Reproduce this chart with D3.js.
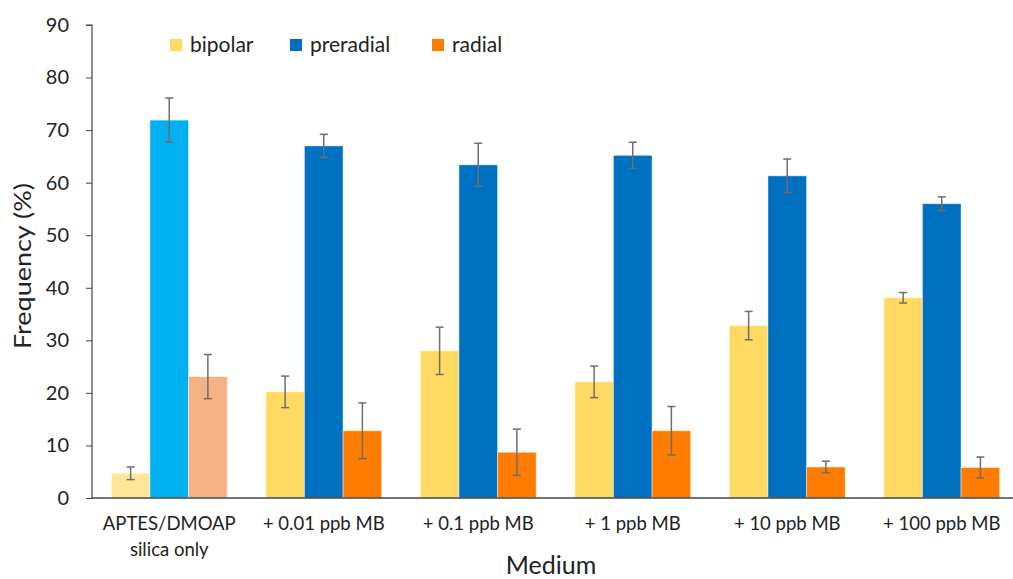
<!DOCTYPE html>
<html>
<head>
<meta charset="utf-8">
<script src="https://cdn.jsdelivr.net/npm/d3@7"></script>
<style>
  body { margin: 0; background: #fff; }
  text { font-family: Lato, "Open Sans", sans-serif; fill: #222; }
</style>
</head>
<body>
<script>
// Data
const categories = ["APTES/DMOAP|silica only", "+ 0.01 ppb MB", "+ 0.1 ppb MB", "+ 1 ppb MB", "+ 10 ppb MB", "+ 100 ppb MB"];
const seriesNames = ["bipolar", "preradial", "radial"];
const bipolar = [4.7, 20.2, 28.0, 22.1, 32.8, 38.1];
const bipolarErr = [1.2, 3.0, 4.5, 3.0, 2.7, 1.0];
const preradial = [71.9, 67.0, 63.4, 65.2, 61.3, 56.0];
const preradialErr = [4.2, 2.2, 4.1, 2.5, 3.2, 1.3];
const radial = [23.1, 12.8, 8.7, 12.8, 5.9, 5.8];
const radialErr = [4.2, 5.3, 4.4, 4.6, 1.1, 2.0];
const yTicks = [0, 10, 20, 30, 40, 50, 60, 70, 80, 90];

const colors = ["#FFD961", "#0070C0", "#FF7C00"];
// the control group is drawn in lighter tints
const controlColors = ["#FFE699", "#00B0F0", "#F4B183"];

const width = 1013, height = 579;
const axisX = 92;

const svg = d3.select("body").append("svg")
    .attr("width", width)
    .attr("height", height);

// Scales
const x0 = d3.scaleBand()
    .domain(categories)
    .range([92, 1019])
    .paddingInner(0.25)
    .paddingOuter(0.125);

const x1 = d3.scaleBand()
    .domain(seriesNames)
    .range([0, x0.bandwidth()]);

const y = d3.scaleLinear()
    .domain([0, 90])
    .range([498, 25]);

// Build rows for bars
const values = [bipolar, preradial, radial];
const errors = [bipolarErr, preradialErr, radialErr];
const rows = [];
categories.forEach((c, i) => {
    seriesNames.forEach((s, j) => {
        rows.push({cat: c, series: s, value: values[j][i], err: errors[j][i], ci: i, si: j});
    });
});

// Bars
svg.selectAll("rect.bar")
    .data(rows)
    .enter().append("rect")
    .attr("class", "bar")
    .attr("x", d => x0(d.cat) + x1(d.series))
    .attr("y", d => y(d.value))
    .attr("width", x1.bandwidth())
    .attr("height", d => y(0) - y(d.value))
    .attr("fill", d => d.ci === 0 ? controlColors[d.si] : colors[d.si])
    .attr("stroke", "rgba(255,255,255,0.45)")
    .attr("stroke-width", 1);

// Error bars
const cx = d => x0(d.cat) + x1(d.series) + x1.bandwidth() / 2;
const err = svg.selectAll("g.err")
    .data(rows)
    .enter().append("g")
    .attr("class", "err")
    .attr("stroke", "#6e6e6e")
    .attr("stroke-width", 1.5);

err.append("line")
    .attr("x1", cx)
    .attr("x2", cx)
    .attr("y1", d => y(d.value + d.err))
    .attr("y2", d => y(d.value - d.err));

err.append("line")
    .attr("x1", d => cx(d) - 4)
    .attr("x2", d => cx(d) + 4)
    .attr("y1", d => y(d.value + d.err))
    .attr("y2", d => y(d.value + d.err));

err.append("line")
    .attr("x1", d => cx(d) - 4)
    .attr("x2", d => cx(d) + 4)
    .attr("y1", d => y(d.value - d.err))
    .attr("y2", d => y(d.value - d.err));

// Y axis
const yAxis = svg.append("g")
    .attr("transform", "translate(" + axisX + ",0)")
    .call(d3.axisLeft(y).tickValues(yTicks).tickSize(6).tickPadding(17));
yAxis.select(".domain").attr("stroke", "#444").attr("stroke-width", 1.2).attr("d", "M-6," + y(90) + "H0V" + y(0));
yAxis.selectAll(".tick line").attr("stroke", "#444");
yAxis.selectAll(".tick text")
    .style("font-size", "20px")
    .attr("fill", "#222");

// X axis line
svg.append("line")
    .attr("x1", axisX)
    .attr("x2", 1013)
    .attr("y1", y(0))
    .attr("y2", y(0))
    .attr("stroke", "#444")
    .attr("stroke-width", 1.5);

// Category labels
const catLabels = svg.selectAll("text.cat")
    .data(categories)
    .enter().append("text")
    .attr("class", "cat")
    .attr("x", d => x0(d) + x0.bandwidth() / 2)
    .attr("y", 530)
    .attr("text-anchor", "middle")
    .style("font-size", "18.5px");

catLabels.each(function(d) {
    const parts = d.split("|");
    const t = d3.select(this);
    parts.forEach((p, k) => {
        t.append("tspan")
            .attr("x", x0(d) + x0.bandwidth() / 2)
            .attr("dy", k === 0 ? 0 : 26)
            .text(p);
    });
});

// Axis titles
svg.append("text")
    .attr("x", 551)
    .attr("y", 574)
    .attr("text-anchor", "middle")
    .style("font-size", "25px")
    .text("Medium");

svg.append("text")
    .attr("transform", "rotate(-90)")
    .attr("x", -266)
    .attr("y", 31)
    .attr("text-anchor", "middle")
    .attr("textLength", 166)
    .attr("lengthAdjust", "spacingAndGlyphs")
    .style("font-size", "23px")
    .text("Frequency (%)");

// Legend
const legendX = [170, 290, 432];
const legend = svg.selectAll(".legend")
    .data(seriesNames)
    .enter().append("g")
    .attr("class", "legend")
    .attr("transform", (d, i) => "translate(" + legendX[i] + ",39)");

legend.append("rect")
    .attr("width", 12)
    .attr("height", 12)
    .attr("fill", (d, i) => colors[i]);

legend.append("text")
    .attr("x", 20)
    .attr("y", 13)
    .style("font-size", "21px")
    .text(d => d);
</script>
</body>
</html>
